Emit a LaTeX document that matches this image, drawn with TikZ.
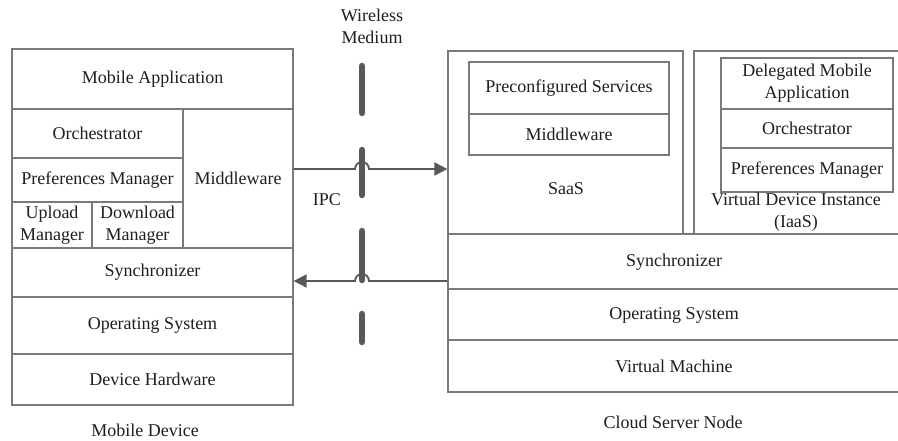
\documentclass[tikz,border=0pt]{standalone}
\usepackage{fontspec}
\setmainfont{Liberation Serif}
\usetikzlibrary{arrows.meta,calc}
\definecolor{boxline}{HTML}{7A7A7A}
\definecolor{conn}{HTML}{585858}
\definecolor{txt}{HTML}{1E1E1E}
\tikzset{
  cell/.style={draw=boxline, line width=1.2pt, inner sep=0pt, align=center, text=txt, font=\fontsize{18}{22}\selectfont},
  lbl/.style={inner sep=0pt, align=center, text=txt, font=\fontsize{18}{22}\selectfont},
  arr/.style={draw=conn, line width=1.9pt, -{Triangle[length=13pt,width=13pt]}},
  wdash/.style={draw=conn, line width=6.5pt, line cap=round}
}
\begin{document}
\begin{tikzpicture}[x=1pt,y=-1pt]
\useasboundingbox (0,0) rectangle (898,441);
\clip (0,0) rectangle (898,441);
% Mobile device stack
\node[cell, minimum width=281, minimum height=60] (mobapp) at (152.5,79) {Mobile Application};
\node[cell, minimum width=171, minimum height=49] (orch) at (97.5,133.5) {Orchestrator};
\node[cell, minimum width=171, minimum height=44] (pref) at (97.5,180) {Preferences Manager};
\node[cell, minimum width=80, minimum height=46] (upl) at (52,225) {Upload\\Manager};
\node[cell, minimum width=91, minimum height=46] (dnl) at (137.5,225) {Download\\Manager};
\node[cell, minimum width=110, minimum height=139] (mw) at (238,178.5) {Middleware};
\node[cell, minimum width=281, minimum height=49] (sync) at (152.5,272.5) {Synchronizer};
\node[cell, minimum width=281, minimum height=57] (os) at (152.5,325.5) {Operating System};
\node[cell, minimum width=281, minimum height=51] (hw) at (152.5,379.5) {Device Hardware};
\node[lbl] (mdev) at (145,430) {Mobile Device};
% Cloud server node
\node[cell, minimum width=235, minimum height=183] (saas) at (565.5,142.5) {};
\node[cell, minimum width=200, minimum height=52] (pcs) at (569,88) {Preconfigured Services};
\node[cell, minimum width=200, minimum height=41] (smw) at (569,134.5) {Middleware};
\node[lbl] (saaslbl) at (566,189) {SaaS};
\node[cell, minimum width=220, minimum height=183] (vdi) at (804,142.5) {};
\node[cell, minimum width=172, minimum height=51] (dma) at (807,83.5) {Delegated Mobile\\Application};
\node[cell, minimum width=172, minimum height=39] (vorch) at (807,128.5) {Orchestrator};
\node[cell, minimum width=172, minimum height=44] (vpref) at (807,170) {Preferences Manager};
\node[lbl] (vdilbl) at (796,212) {Virtual Device Instance\\(IaaS)};
\node[cell, minimum width=466, minimum height=55] (csync) at (681,261.5) {};
\node[lbl] (csynclbl) at (674,262) {Synchronizer};
\node[cell, minimum width=466, minimum height=51] (cos) at (681,314.5) {};
\node[lbl] (coslbl) at (674,315) {Operating System};
\node[cell, minimum width=466, minimum height=52] (vm) at (681,366) {};
\node[lbl] (vmlbl) at (674,366) {Virtual Machine};
\node[lbl] (cloud) at (673,422) {Cloud Server Node};
% Wireless medium
\node[lbl] (wm) at (372,26) {Wireless\\Medium};
\node[lbl] (ipc) at (327,200) {IPC};
\draw[wdash] (362,66) -- (362,113);
\draw[wdash] (362,150) -- (362,195);
\draw[wdash] (362,231) -- (362,280);
\draw[wdash] (362,314) -- (362,342);
% Connectors
\coordinate (hop1) at (362,169);
\coordinate (hop2) at (362,281);
\draw[arr] (mw.east |- hop1) -- ($(hop1)+(-7,0)$) arc[start angle=180, end angle=360, radius=7] -- (saas.west |- hop1);
\draw[arr] (csync.west |- hop2) -- ($(hop2)+(7,0)$) arc[start angle=0, end angle=-180, radius=7] -- (sync.east |- hop2);
\end{tikzpicture}
\end{document}
